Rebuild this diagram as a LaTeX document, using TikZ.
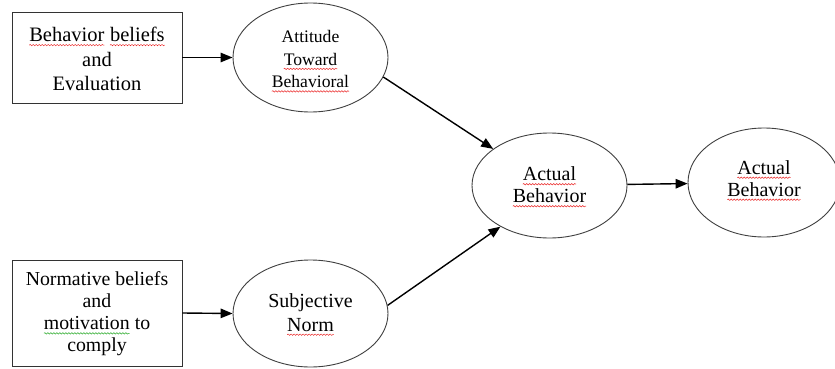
\documentclass[tikz,border=0pt]{standalone}
\usepackage{fontspec}
\setmainfont{Liberation Serif}
\newfontfamily\labelserif{Liberation Serif}
\usetikzlibrary{arrows.meta,shapes.geometric,decorations.pathmorphing}

% word with a wavy proofing underline
\newcommand\spellmark[2][red]{\tikz[baseline=(w.base)]{%
  \node[inner sep=0pt,outer sep=0pt,draw=none,align=left](w){#2};%
  \draw[#1,line width=0.5pt,decorate,decoration={snake,amplitude=0.7pt,segment length=3pt}]
    ([yshift=-3.5pt]w.base west) -- ([yshift=-3.5pt]w.base east);}}

\definecolor{spellgreen}{RGB}{40,170,40}
\definecolor{spellred}{RGB}{235,40,40}

\tikzset{
  box/.style={draw=black!80, line width=0.9pt, rectangle, inner sep=0pt,
              minimum width=170pt},
  oval/.style={draw=black!75, line width=0.9pt, ellipse, inner sep=0pt},
  txt/.style={inner sep=0pt, align=center},
  arr/.style={line width=1.4pt, -{Triangle[length=12pt,width=9.5pt]}},
}

\begin{document}
\begin{tikzpicture}[x=1pt,y=1pt]
  \fill[white] (0,0) rectangle (835,368);
  \clip (0,0) rectangle (835,368);

  % shapes
  \node[box, minimum height=91pt] (b1) at (97,310.5) {};
  \node[box, minimum height=106pt] (b2) at (97,55) {};
  \node[oval, minimum width=155pt, minimum height=109pt] (e1) at (310.5,310.5) {};
  \node[oval, minimum width=155pt, minimum height=107pt] (e2) at (310.5,54.5) {};
  \node[oval, minimum width=155pt, minimum height=105pt] (e3) at (549.5,182.5) {};
  \node[oval, minimum width=152pt, minimum height=109pt] (e4) at (764,185.5) {};

  % labels
  \node[txt, font=\labelserif\fontsize{20.5}{24.5}\selectfont] (t1) at (97,309)
    {\spellmark[spellred]{Behavior} \spellmark[spellred]{beliefs}\\and\\Evaluation};
  \node[txt, font=\labelserif\fontsize{17.6}{22.5}\selectfont] (t2) at (310.5,306.5)
    {Attitude\\\spellmark[spellred]{Toward}\\\spellmark[spellred]{Behavioral}};
  \node[txt, font=\labelserif\fontsize{19.8}{22}\selectfont] (t3) at (97,54)
    {Normative beliefs\\and\\\spellmark[spellgreen]{motivation} to\\comply};
  \node[txt, font=\labelserif\fontsize{20}{24}\selectfont] (t4) at (310.5,53.5)
    {Subjective\\\spellmark[spellred]{Norm}};
  \node[txt, font=\labelserif\fontsize{20}{22}\selectfont] (t5) at (549.5,181)
    {\spellmark[spellred]{Actual}\\\spellmark[spellred]{Behavior}};
  \node[txt, font=\labelserif\fontsize{20}{22}\selectfont] (t6) at (764,187.5)
    {\spellmark[spellred]{Actual}\\\spellmark[spellred]{Behavior}};

  % connectors
  \draw[arr] (b1.east) -- (e1.west);
  \draw[arr] (b2.east) -- (e2.west);
  \draw[arr] (e1.-15) -- (e3.147);
  \draw[arr] (e2.6) -- (e3.220);
  \draw[arr] (e3) -- (e4);
\end{tikzpicture}
\end{document}
